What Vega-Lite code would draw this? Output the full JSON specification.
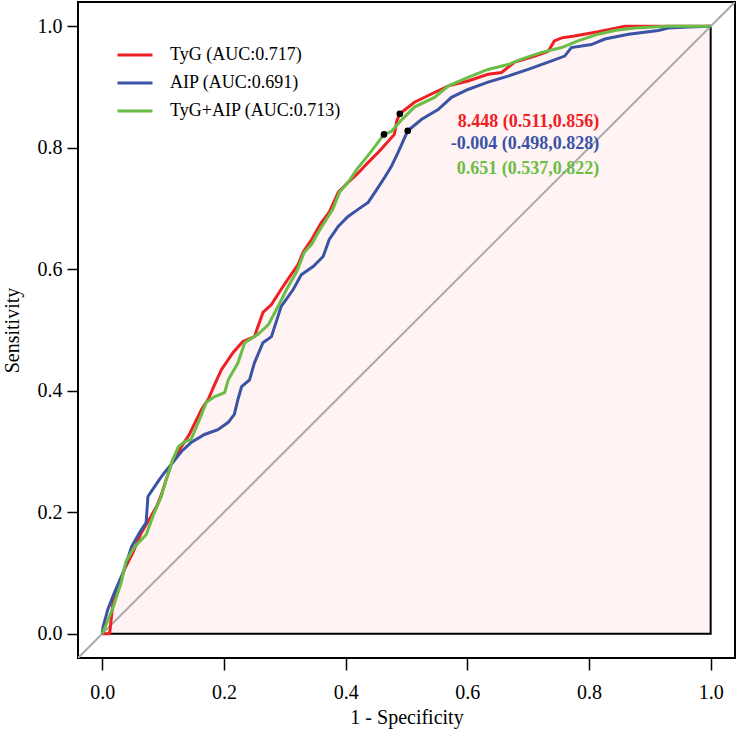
{
  "$schema": "https://vega.github.io/schema/vega-lite/v6.json",
  "autosize": {"type": "none"},
  "padding": {"left": 78, "top": 2, "right": 2, "bottom": 82},
  "width": 657,
  "height": 656,
  "background": "white",
  "config": {
    "view": {"stroke": "black", "strokeWidth": 2},
    "font": "Liberation Serif",
    "axis": {"grid": false, "domain": false, "tickColor": "black", "tickWidth": 1.5, "labelColor": "black", "titleColor": "black", "labelFont": "Liberation Serif", "titleFont": "Liberation Serif", "labelFontSize": 20, "titleFontSize": 20, "titleFontWeight": "normal"}
  },
  "datasets": {
    "roc": [
      {"model":"TyG (AUC:0.717)","fpr":0,"tpr":0},{"model":"TyG (AUC:0.717)","fpr":0.012,"tpr":0.0},{"model":"TyG (AUC:0.717)","fpr":0.018,"tpr":0.056},{"model":"TyG (AUC:0.717)","fpr":0.036,"tpr":0.105},{"model":"TyG (AUC:0.717)","fpr":0.050,"tpr":0.133},{"model":"TyG (AUC:0.717)","fpr":0.064,"tpr":0.166},{"model":"TyG (AUC:0.717)","fpr":0.077,"tpr":0.188},{"model":"TyG (AUC:0.717)","fpr":0.089,"tpr":0.209},{"model":"TyG (AUC:0.717)","fpr":0.097,"tpr":0.229},{"model":"TyG (AUC:0.717)","fpr":0.105,"tpr":0.254},{"model":"TyG (AUC:0.717)","fpr":0.116,"tpr":0.287},{"model":"TyG (AUC:0.717)","fpr":0.130,"tpr":0.308},{"model":"TyG (AUC:0.717)","fpr":0.143,"tpr":0.328},{"model":"TyG (AUC:0.717)","fpr":0.155,"tpr":0.353},{"model":"TyG (AUC:0.717)","fpr":0.163,"tpr":0.369},{"model":"TyG (AUC:0.717)","fpr":0.174,"tpr":0.386},{"model":"TyG (AUC:0.717)","fpr":0.188,"tpr":0.418},{"model":"TyG (AUC:0.717)","fpr":0.196,"tpr":0.435},{"model":"TyG (AUC:0.717)","fpr":0.215,"tpr":0.463},{"model":"TyG (AUC:0.717)","fpr":0.231,"tpr":0.481},{"model":"TyG (AUC:0.717)","fpr":0.250,"tpr":0.489},{"model":"TyG (AUC:0.717)","fpr":0.264,"tpr":0.529},{"model":"TyG (AUC:0.717)","fpr":0.278,"tpr":0.542},{"model":"TyG (AUC:0.717)","fpr":0.294,"tpr":0.567},{"model":"TyG (AUC:0.717)","fpr":0.308,"tpr":0.588},{"model":"TyG (AUC:0.717)","fpr":0.322,"tpr":0.608},{"model":"TyG (AUC:0.717)","fpr":0.330,"tpr":0.628},{"model":"TyG (AUC:0.717)","fpr":0.344,"tpr":0.649},{"model":"TyG (AUC:0.717)","fpr":0.360,"tpr":0.677},{"model":"TyG (AUC:0.717)","fpr":0.373,"tpr":0.694},{"model":"TyG (AUC:0.717)","fpr":0.388,"tpr":0.727},{"model":"TyG (AUC:0.717)","fpr":0.404,"tpr":0.743},{"model":"TyG (AUC:0.717)","fpr":0.421,"tpr":0.759},{"model":"TyG (AUC:0.717)","fpr":0.437,"tpr":0.776},{"model":"TyG (AUC:0.717)","fpr":0.453,"tpr":0.792},{"model":"TyG (AUC:0.717)","fpr":0.480,"tpr":0.822},{"model":"TyG (AUC:0.717)","fpr":0.484,"tpr":0.844},{"model":"TyG (AUC:0.717)","fpr":0.489,"tpr":0.856},{"model":"TyG (AUC:0.717)","fpr":0.513,"tpr":0.875},{"model":"TyG (AUC:0.717)","fpr":0.546,"tpr":0.891},{"model":"TyG (AUC:0.717)","fpr":0.569,"tpr":0.902},{"model":"TyG (AUC:0.717)","fpr":0.601,"tpr":0.910},{"model":"TyG (AUC:0.717)","fpr":0.634,"tpr":0.921},{"model":"TyG (AUC:0.717)","fpr":0.656,"tpr":0.924},{"model":"TyG (AUC:0.717)","fpr":0.678,"tpr":0.941},{"model":"TyG (AUC:0.717)","fpr":0.711,"tpr":0.951},{"model":"TyG (AUC:0.717)","fpr":0.733,"tpr":0.959},{"model":"TyG (AUC:0.717)","fpr":0.743,"tpr":0.976},{"model":"TyG (AUC:0.717)","fpr":0.755,"tpr":0.981},{"model":"TyG (AUC:0.717)","fpr":0.776,"tpr":0.984},{"model":"TyG (AUC:0.717)","fpr":0.815,"tpr":0.991},{"model":"TyG (AUC:0.717)","fpr":0.859,"tpr":1.0},{"model":"TyG (AUC:0.717)","fpr":1.0,"tpr":1.0},
      {"model":"AIP (AUC:0.691)","fpr":0,"tpr":0},{"model":"AIP (AUC:0.691)","fpr":0.001,"tpr":0.010},{"model":"AIP (AUC:0.691)","fpr":0.009,"tpr":0.040},{"model":"AIP (AUC:0.691)","fpr":0.020,"tpr":0.068},{"model":"AIP (AUC:0.691)","fpr":0.034,"tpr":0.100},{"model":"AIP (AUC:0.691)","fpr":0.048,"tpr":0.143},{"model":"AIP (AUC:0.691)","fpr":0.061,"tpr":0.166},{"model":"AIP (AUC:0.691)","fpr":0.072,"tpr":0.183},{"model":"AIP (AUC:0.691)","fpr":0.075,"tpr":0.226},{"model":"AIP (AUC:0.691)","fpr":0.094,"tpr":0.254},{"model":"AIP (AUC:0.691)","fpr":0.102,"tpr":0.265},{"model":"AIP (AUC:0.691)","fpr":0.116,"tpr":0.282},{"model":"AIP (AUC:0.691)","fpr":0.130,"tpr":0.300},{"model":"AIP (AUC:0.691)","fpr":0.146,"tpr":0.315},{"model":"AIP (AUC:0.691)","fpr":0.168,"tpr":0.328},{"model":"AIP (AUC:0.691)","fpr":0.190,"tpr":0.336},{"model":"AIP (AUC:0.691)","fpr":0.207,"tpr":0.348},{"model":"AIP (AUC:0.691)","fpr":0.217,"tpr":0.361},{"model":"AIP (AUC:0.691)","fpr":0.223,"tpr":0.386},{"model":"AIP (AUC:0.691)","fpr":0.229,"tpr":0.407},{"model":"AIP (AUC:0.691)","fpr":0.242,"tpr":0.418},{"model":"AIP (AUC:0.691)","fpr":0.250,"tpr":0.446},{"model":"AIP (AUC:0.691)","fpr":0.264,"tpr":0.479},{"model":"AIP (AUC:0.691)","fpr":0.278,"tpr":0.489},{"model":"AIP (AUC:0.691)","fpr":0.294,"tpr":0.539},{"model":"AIP (AUC:0.691)","fpr":0.314,"tpr":0.567},{"model":"AIP (AUC:0.691)","fpr":0.327,"tpr":0.591},{"model":"AIP (AUC:0.691)","fpr":0.347,"tpr":0.605},{"model":"AIP (AUC:0.691)","fpr":0.363,"tpr":0.621},{"model":"AIP (AUC:0.691)","fpr":0.373,"tpr":0.649},{"model":"AIP (AUC:0.691)","fpr":0.388,"tpr":0.671},{"model":"AIP (AUC:0.691)","fpr":0.404,"tpr":0.687},{"model":"AIP (AUC:0.691)","fpr":0.421,"tpr":0.699},{"model":"AIP (AUC:0.691)","fpr":0.437,"tpr":0.710},{"model":"AIP (AUC:0.691)","fpr":0.451,"tpr":0.731},{"model":"AIP (AUC:0.691)","fpr":0.464,"tpr":0.751},{"model":"AIP (AUC:0.691)","fpr":0.475,"tpr":0.769},{"model":"AIP (AUC:0.691)","fpr":0.486,"tpr":0.792},{"model":"AIP (AUC:0.691)","fpr":0.502,"tpr":0.828},{"model":"AIP (AUC:0.691)","fpr":0.525,"tpr":0.847},{"model":"AIP (AUC:0.691)","fpr":0.552,"tpr":0.863},{"model":"AIP (AUC:0.691)","fpr":0.574,"tpr":0.883},{"model":"AIP (AUC:0.691)","fpr":0.601,"tpr":0.896},{"model":"AIP (AUC:0.691)","fpr":0.634,"tpr":0.908},{"model":"AIP (AUC:0.691)","fpr":0.667,"tpr":0.918},{"model":"AIP (AUC:0.691)","fpr":0.700,"tpr":0.929},{"model":"AIP (AUC:0.691)","fpr":0.733,"tpr":0.941},{"model":"AIP (AUC:0.691)","fpr":0.760,"tpr":0.951},{"model":"AIP (AUC:0.691)","fpr":0.771,"tpr":0.965},{"model":"AIP (AUC:0.691)","fpr":0.804,"tpr":0.970},{"model":"AIP (AUC:0.691)","fpr":0.826,"tpr":0.979},{"model":"AIP (AUC:0.691)","fpr":0.865,"tpr":0.987},{"model":"AIP (AUC:0.691)","fpr":0.914,"tpr":0.993},{"model":"AIP (AUC:0.691)","fpr":0.930,"tpr":0.997},{"model":"AIP (AUC:0.691)","fpr":0.963,"tpr":0.999},{"model":"AIP (AUC:0.691)","fpr":1.0,"tpr":1.0},
      {"model":"TyG+AIP (AUC:0.713)","fpr":0,"tpr":0},{"model":"TyG+AIP (AUC:0.713)","fpr":0.001,"tpr":0.002},{"model":"TyG+AIP (AUC:0.713)","fpr":0.018,"tpr":0.044},{"model":"TyG+AIP (AUC:0.713)","fpr":0.031,"tpr":0.084},{"model":"TyG+AIP (AUC:0.713)","fpr":0.039,"tpr":0.119},{"model":"TyG+AIP (AUC:0.713)","fpr":0.053,"tpr":0.143},{"model":"TyG+AIP (AUC:0.713)","fpr":0.072,"tpr":0.163},{"model":"TyG+AIP (AUC:0.713)","fpr":0.083,"tpr":0.193},{"model":"TyG+AIP (AUC:0.713)","fpr":0.097,"tpr":0.226},{"model":"TyG+AIP (AUC:0.713)","fpr":0.105,"tpr":0.254},{"model":"TyG+AIP (AUC:0.713)","fpr":0.116,"tpr":0.287},{"model":"TyG+AIP (AUC:0.713)","fpr":0.125,"tpr":0.308},{"model":"TyG+AIP (AUC:0.713)","fpr":0.135,"tpr":0.316},{"model":"TyG+AIP (AUC:0.713)","fpr":0.146,"tpr":0.320},{"model":"TyG+AIP (AUC:0.713)","fpr":0.160,"tpr":0.353},{"model":"TyG+AIP (AUC:0.713)","fpr":0.171,"tpr":0.381},{"model":"TyG+AIP (AUC:0.713)","fpr":0.184,"tpr":0.390},{"model":"TyG+AIP (AUC:0.713)","fpr":0.201,"tpr":0.397},{"model":"TyG+AIP (AUC:0.713)","fpr":0.207,"tpr":0.418},{"model":"TyG+AIP (AUC:0.713)","fpr":0.223,"tpr":0.446},{"model":"TyG+AIP (AUC:0.713)","fpr":0.234,"tpr":0.479},{"model":"TyG+AIP (AUC:0.713)","fpr":0.256,"tpr":0.493},{"model":"TyG+AIP (AUC:0.713)","fpr":0.273,"tpr":0.509},{"model":"TyG+AIP (AUC:0.713)","fpr":0.289,"tpr":0.539},{"model":"TyG+AIP (AUC:0.713)","fpr":0.303,"tpr":0.567},{"model":"TyG+AIP (AUC:0.713)","fpr":0.319,"tpr":0.595},{"model":"TyG+AIP (AUC:0.713)","fpr":0.332,"tpr":0.628},{"model":"TyG+AIP (AUC:0.713)","fpr":0.344,"tpr":0.641},{"model":"TyG+AIP (AUC:0.713)","fpr":0.355,"tpr":0.661},{"model":"TyG+AIP (AUC:0.713)","fpr":0.365,"tpr":0.677},{"model":"TyG+AIP (AUC:0.713)","fpr":0.379,"tpr":0.699},{"model":"TyG+AIP (AUC:0.713)","fpr":0.390,"tpr":0.727},{"model":"TyG+AIP (AUC:0.713)","fpr":0.404,"tpr":0.743},{"model":"TyG+AIP (AUC:0.713)","fpr":0.418,"tpr":0.764},{"model":"TyG+AIP (AUC:0.713)","fpr":0.442,"tpr":0.794},{"model":"TyG+AIP (AUC:0.713)","fpr":0.463,"tpr":0.822},{"model":"TyG+AIP (AUC:0.713)","fpr":0.475,"tpr":0.827},{"model":"TyG+AIP (AUC:0.713)","fpr":0.492,"tpr":0.846},{"model":"TyG+AIP (AUC:0.713)","fpr":0.513,"tpr":0.867},{"model":"TyG+AIP (AUC:0.713)","fpr":0.546,"tpr":0.883},{"model":"TyG+AIP (AUC:0.713)","fpr":0.569,"tpr":0.902},{"model":"TyG+AIP (AUC:0.713)","fpr":0.601,"tpr":0.916},{"model":"TyG+AIP (AUC:0.713)","fpr":0.634,"tpr":0.929},{"model":"TyG+AIP (AUC:0.713)","fpr":0.667,"tpr":0.937},{"model":"TyG+AIP (AUC:0.713)","fpr":0.689,"tpr":0.946},{"model":"TyG+AIP (AUC:0.713)","fpr":0.722,"tpr":0.957},{"model":"TyG+AIP (AUC:0.713)","fpr":0.755,"tpr":0.965},{"model":"TyG+AIP (AUC:0.713)","fpr":0.782,"tpr":0.976},{"model":"TyG+AIP (AUC:0.713)","fpr":0.815,"tpr":0.987},{"model":"TyG+AIP (AUC:0.713)","fpr":0.842,"tpr":0.993},{"model":"TyG+AIP (AUC:0.713)","fpr":0.875,"tpr":0.997},{"model":"TyG+AIP (AUC:0.713)","fpr":0.930,"tpr":1.0},{"model":"TyG+AIP (AUC:0.713)","fpr":1.0,"tpr":1.0}
    ],
    "thres": [
      {"model":"TyG (AUC:0.717)","label":"8.448 (0.511,0.856)","fpr":0.489,"tpr":0.856},
      {"model":"AIP (AUC:0.691)","label":"-0.004 (0.498,0.828)","fpr":0.502,"tpr":0.828},
      {"model":"TyG+AIP (AUC:0.713)","label":"0.651 (0.537,0.822)","fpr":0.463,"tpr":0.822}
    ],
    "border": [
      {"i": 1, "fpr": 0, "tpr": 0},
      {"i": 2, "fpr": 1, "tpr": 0},
      {"i": 3, "fpr": 1, "tpr": 1}
    ],
    "diag": [
      {"fpr": -0.04, "tpr": -0.04},
      {"fpr": 1.04, "tpr": 1.04}
    ]
  },
  "layer": [
    {
      "data": {"name": "roc"},
      "transform": [{"filter": "datum.model === 'TyG (AUC:0.717)'"}],
      "mark": {"type": "area", "color": "#FFF3F3", "interpolate": "linear"},
      "encoding": {
        "x": {"field": "fpr", "type": "quantitative", "scale": {"domain": [-0.04, 1.04], "nice": false, "zero": false},
          "axis": {"values": [0, 0.2, 0.4, 0.6, 0.8, 1.0], "format": ".1f", "tickSize": 12, "labelPadding": 12, "title": "1 - Specificity", "titlePadding": 5}},
        "y": {"field": "tpr", "type": "quantitative", "scale": {"domain": [-0.04, 1.04], "nice": false, "zero": false},
          "axis": {"values": [0, 0.2, 0.4, 0.6, 0.8, 1.0], "format": ".1f", "tickSize": 11, "labelPadding": 5, "title": "Sensitivity", "titlePadding": 15}}
      }
    },
    {
      "data": {"name": "border"},
      "mark": {"type": "line", "color": "black", "strokeWidth": 2},
      "encoding": {
        "x": {"field": "fpr", "type": "quantitative"},
        "y": {"field": "tpr", "type": "quantitative"},
        "order": {"field": "i", "type": "quantitative"}
      }
    },
    {
      "data": {"name": "diag"},
      "mark": {"type": "line", "color": "#AAAAAA", "strokeWidth": 2, "clip": true},
      "encoding": {
        "x": {"field": "fpr", "type": "quantitative"},
        "y": {"field": "tpr", "type": "quantitative"}
      }
    },
    {
      "data": {"name": "roc"},
      "mark": {"type": "line", "strokeWidth": 3},
      "encoding": {
        "x": {"field": "fpr", "type": "quantitative"},
        "y": {"field": "tpr", "type": "quantitative"},
        "color": {"field": "model", "type": "nominal",
          "scale": {"domain": ["TyG (AUC:0.717)", "AIP (AUC:0.691)", "TyG+AIP (AUC:0.713)"], "range": ["#EE2024", "#3A53A4", "#6ABD45"]},
          "legend": {"orient": "none", "legendX": 38, "legendY": 34, "title": null, "symbolType": "stroke", "symbolStrokeWidth": 3, "symbolSize": 1225, "labelFont": "Liberation Serif", "labelFontSize": 18, "labelColor": "black", "labelOffset": 16, "labelLimit": 0, "rowPadding": -12}},
        "order": {"field": "fpr", "type": "quantitative"}
      }
    },
    {
      "data": {"name": "thres"},
      "mark": {"type": "point", "filled": true, "color": "black", "size": 45, "opacity": 1},
      "encoding": {
        "x": {"field": "fpr", "type": "quantitative"},
        "y": {"field": "tpr", "type": "quantitative"}
      }
    },
    {
      "data": {"name": "thres"},
      "transform": [{"filter": "datum.model === 'TyG (AUC:0.717)'"}],
      "mark": {"type": "text", "align": "right", "baseline": "middle", "fontWeight": "bold", "fontSize": 18, "font": "Liberation Serif", "color": "#EE2024", "dy": 8},
      "encoding": {"x": {"datum": 0.817}, "y": {"field": "tpr", "type": "quantitative"}, "text": {"field": "label"}}
    },
    {
      "data": {"name": "thres"},
      "transform": [{"filter": "datum.model === 'AIP (AUC:0.691)'"}],
      "mark": {"type": "text", "align": "right", "baseline": "middle", "fontWeight": "bold", "fontSize": 18, "font": "Liberation Serif", "color": "#3A53A4", "dy": 13},
      "encoding": {"x": {"datum": 0.817}, "y": {"field": "tpr", "type": "quantitative"}, "text": {"field": "label"}}
    },
    {
      "data": {"name": "thres"},
      "transform": [{"filter": "datum.model === 'TyG+AIP (AUC:0.713)'"}],
      "mark": {"type": "text", "align": "right", "baseline": "middle", "fontWeight": "bold", "fontSize": 18, "font": "Liberation Serif", "color": "#6ABD45", "dy": 35},
      "encoding": {"x": {"datum": 0.817}, "y": {"field": "tpr", "type": "quantitative"}, "text": {"field": "label"}}
    }
  ]
}
